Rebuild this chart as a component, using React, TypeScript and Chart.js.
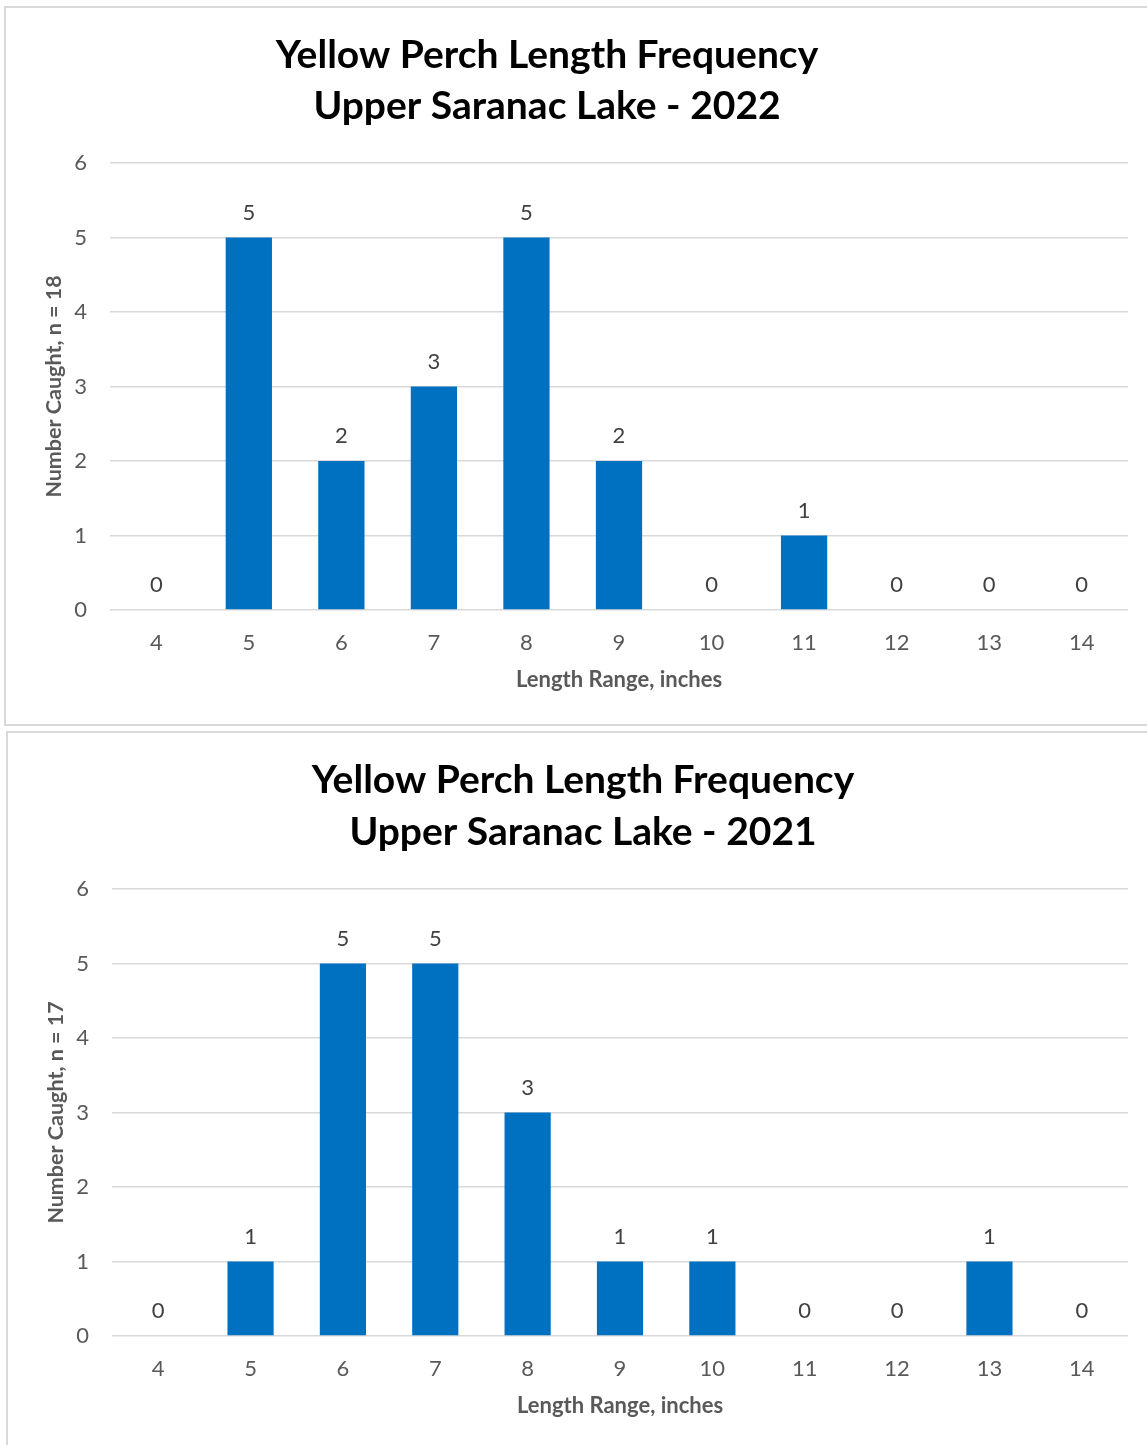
import React, { useEffect, useRef } from 'react';
import { Chart, registerables } from 'chart.js';

Chart.register(...registerables);

const categories = ['4', '5', '6', '7', '8', '9', '10', '11', '12', '13', '14'];
const counts2022 = [0, 5, 2, 3, 5, 2, 0, 1, 0, 0, 0];
const counts2021 = [0, 1, 5, 5, 3, 1, 1, 0, 0, 1, 0];
const yMin = 0;
const yMax = 6;
const yStep = 1;
const title2022 = ['Yellow Perch Length Frequency', 'Upper Saranac Lake - 2022'];
const title2021 = ['Yellow Perch Length Frequency', 'Upper Saranac Lake - 2021'];
const yTitle2022 = 'Number Caught, n = 18';
const yTitle2021 = 'Number Caught, n = 17';
const xTitle = 'Length Range, inches';

const FONT = 'Lato, "Open Sans", sans-serif';
const BAR_COLOR = '#0070C0';
const TICK_COLOR = '#595959';
const TICK_SIZE = 22;

type Props = {
  left: number;
  top: number;
  canvasW: number;
  canvasH: number;
  titleCx: number;
  titleY: number[];
  titles: string[];
  values: number[];
  yTitle: string;
  plotTop: number;
  plotBottom: number;
  xTickPad: number;
  xTitlePad: number;
};

function FreqChart(p: Props) {
  const ref = useRef<HTMLCanvasElement | null>(null);
  useEffect(() => {
    if (!ref.current) return;
    const titlePlugin = {
      id: 'customTitle',
      afterDraw(chart: any) {
        const ctx = chart.ctx;
        ctx.save();
        ctx.fillStyle = '#000000';
        ctx.font = `bold 39px ${FONT}`;
        ctx.textAlign = 'center';
        ctx.textBaseline = 'middle';
        p.titles.forEach((t, i) => ctx.fillText(t, p.titleCx, p.titleY[i]));
        ctx.restore();
      },
    };
    const labelPlugin = {
      id: 'barLabels',
      afterDatasetsDraw(chart: any) {
        const ctx = chart.ctx;
        const meta = chart.getDatasetMeta(0);
        const data = chart.data.datasets[0].data as number[];
        ctx.save();
        ctx.fillStyle = '#404040';
        ctx.font = `${TICK_SIZE}px ${FONT}`;
        ctx.textAlign = 'center';
        ctx.textBaseline = 'middle';
        meta.data.forEach((bar: any, i: number) => {
          ctx.fillText(String(data[i]), bar.x, bar.y - 25);
        });
        ctx.restore();
      },
    };
    const chart = new Chart(ref.current, {
      type: 'bar',
      data: {
        labels: categories,
        datasets: [
          {
            data: p.values,
            backgroundColor: BAR_COLOR,
            borderWidth: 0,
            categoryPercentage: 1,
            barPercentage: 0.5,
          },
        ],
      },
      options: {
        responsive: false,
        animation: false,
        devicePixelRatio: 1,
        layout: { padding: { top: p.plotTop, right: 19, left: 0, bottom: 0 } },
        plugins: {
          legend: { display: false },
          title: { display: false },
          tooltip: { enabled: false },
        },
        scales: {
          x: {
            grid: { display: false, drawTicks: false },
            border: { display: false },
            ticks: { color: TICK_COLOR, font: { family: FONT, size: TICK_SIZE }, padding: p.xTickPad },
            title: {
              display: true,
              text: xTitle,
              color: TICK_COLOR,
              font: { family: FONT, size: 22, weight: 'bold' },
              padding: { top: 0, bottom: p.xTitlePad },
            },
            afterFit(scale: any) {
              scale.height = p.canvasH - p.plotBottom;
            },
          },
          y: {
            min: yMin,
            max: yMax,
            ticks: {
              stepSize: yStep,
              color: TICK_COLOR,
              font: { family: FONT, size: TICK_SIZE },
              padding: 23,
            },
            grid: { color: '#D9D9D9', lineWidth: 1.5, drawTicks: false },
            border: { display: false },
            title: {
              display: true,
              text: p.yTitle,
              color: TICK_COLOR,
              font: { family: FONT, size: 21.5, weight: 'bold' },
              padding: { top: 35, bottom: 0 },
            },
            afterFit(scale: any) {
              scale.width = 104;
            },
          },
        },
      },
      plugins: [titlePlugin, labelPlugin],
    });
    return () => chart.destroy();
  }, []);
  return (
    <div
      style={{
        position: 'absolute',
        left: p.left,
        top: p.top,
        width: 1200,
        height: 716,
        border: '2px solid #D9D9D9',
        background: '#fff',
      }}
    >
      <canvas ref={ref} width={p.canvasW} height={p.canvasH} style={{ display: 'block' }} />
    </div>
  );
}

export default function App() {
  return (
    <div
      style={{
        position: 'fixed',
        left: 0,
        top: 0,
        width: 1147,
        height: 1445,
        overflow: 'hidden',
        background: '#fff',
      }}
    >
      <FreqChart
        left={4}
        top={6}
        canvasW={1141}
        canvasH={715}
        titleCx={541}
        titleY={[47, 98]}
        titles={title2022}
        values={counts2022}
        yTitle={yTitle2022}
        plotTop={155}
        plotBottom={602}
        xTickPad={20}
        xTitlePad={30}
      />
      <FreqChart
        left={6}
        top={731}
        canvasW={1139}
        canvasH={715}
        titleCx={575}
        titleY={[47, 99]}
        titles={title2021}
        values={counts2021}
        yTitle={yTitle2021}
        plotTop={156}
        plotBottom={603}
        xTickPad={20}
        xTitlePad={29}
      />
    </div>
  );
}
